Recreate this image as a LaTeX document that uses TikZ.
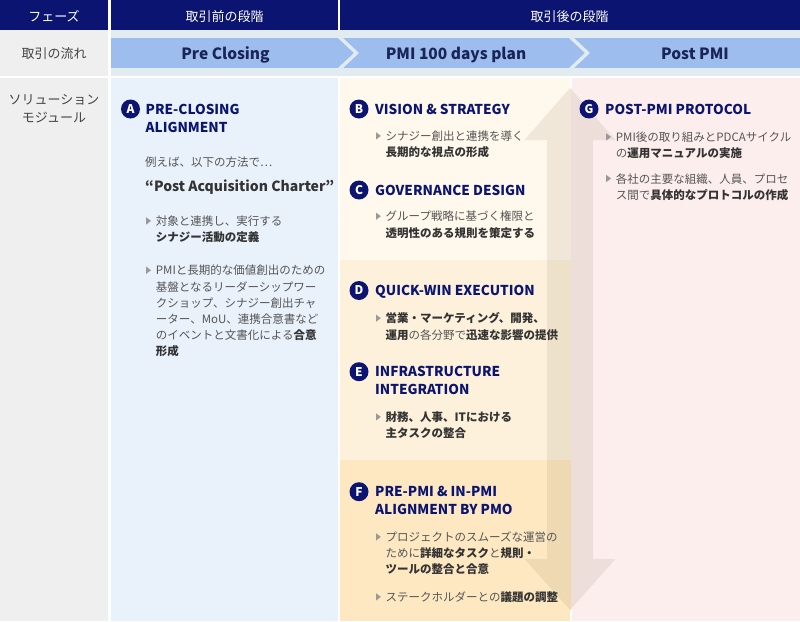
\documentclass[tikz,border=0pt]{standalone}
\usepackage{fontspec}
\setmainfont{Noto Sans CJK JP}

\definecolor{navy}{HTML}{0B1470}
\definecolor{cellgray}{HTML}{EFEFEF}
\definecolor{labelgray}{HTML}{444444}
\definecolor{flowbg}{HTML}{E2EBEF}
\definecolor{flowblue}{HTML}{9DBDEF}
\definecolor{flowtext}{HTML}{1A2456}
\definecolor{preblue}{HTML}{E9F1FB}
\definecolor{creamtop}{HTML}{FFF8EC}
\definecolor{creammid}{HTML}{FDF1DB}
\definecolor{creamlow}{HTML}{FDE8C2}
\definecolor{postpink}{HTML}{FDEEEE}
\definecolor{bodygray}{HTML}{555555}
\definecolor{bodydark}{HTML}{333333}
\definecolor{trigray}{HTML}{999999}
\definecolor{arrowtint}{HTML}{6E5532}

\newcommand{\kw}[1]{{\bfseries\color{bodydark}#1}}
\newcommand{\bodystrut}{\rule{0pt}{11pt}}
\newcommand{\headstrut}{\rule{0pt}{13pt}}
% small grey bullet in front of a text node
\newcommand{\tri}[1]{\fill[trigray] ([shift={(-9.5,3)}]#1.north west) -- ++(4.8,3.6) -- ++(-4.8,3.6) -- cycle;}

\tikzset{
    hdr/.style={text=white, anchor=base, inner sep=0pt, font=\fontsize{13}{13}\selectfont},
    rowlabel/.style={text=labelgray, inner sep=0pt, align=center, font=\fontsize{13}{18}\selectfont},
    flow/.style={text=flowtext, anchor=base, inner sep=0pt, font=\bfseries\fontsize{15.5}{15.5}\selectfont},
    badge/.style={circle, fill=navy, text=white, inner sep=0pt, minimum size=19pt, font=\bfseries\fontsize{12}{12}\selectfont},
    module/.style={text=navy, anchor=north west, inner sep=0pt, align=left, font=\bfseries\fontsize{13.6}{18}\selectfont},
    body/.style={text=bodygray, anchor=north west, inner sep=0pt, align=left, font=\fontsize{11.5}{16.2}\selectfont},
    }

\begin{document}
\begin{tikzpicture}[x=1pt,y=-1pt]
	\useasboundingbox (0,0) rectangle (800,621);
	% header row
	\fill[navy] (0,0) rectangle (108,30);
	\fill[navy] (111,0) rectangle (338,30);
	\fill[navy] (340,0) rectangle (800,30);
	% flow row
	\fill[cellgray] (0,30) rectangle (108,75.5);
	\fill[flowbg] (111,30) rectangle (800,75.5);
	\fill[flowblue] (111,38) rectangle (800,68);
	\fill[flowbg] (338,38) -- (354,53) -- (338,68) -- (343,68) -- (359,53) -- (343,38) -- cycle;
	\fill[flowbg] (569,38) -- (585,53) -- (569,68) -- (574,68) -- (590,53) -- (574,38) -- cycle;
	% module row
	\fill[cellgray] (0,78) rectangle (108,621);
	\fill[preblue] (111,78) rectangle (338,621);
	\fill[creamtop] (340,78) rectangle (571,260);
	\fill[creammid] (340,260) rectangle (571,460);
	\fill[creamlow] (340,460) rectangle (571,621);
	\fill[postpink] (571,78) rectangle (800,621);
	\fill[white] (570,78) rectangle (572,88);
	\fill[white] (570,610) rectangle (572,621);
	% two-way arrow
	\fill[arrowtint, fill opacity=0.1] (570,88) -- (615.5,140) -- (593,140) -- (593,559)
		-- (615.5,559) -- (570,610) -- (524.5,559) -- (547,559) -- (547,140) -- (524.5,140) -- cycle;

	\node[hdr] (hdrPhase) at (54,21.5) {フェーズ};
	\node[hdr] (hdrPre) at (224.5,21.5) {取引前の段階};
	\node[hdr] (hdrPost) at (569.5,21.5) {取引後の段階};
	\node[rowlabel, anchor=base] (lblFlow) at (54,58.2) {取引の流れ};
	\node[rowlabel, anchor=north] (lblModule) at (54,91.2) {\headstrut ソリューション\\モジュール};
	\node[flow] (flowPre) at (225.5,59.3) {Pre Closing};
	\node[flow] (flowPmi) at (456,59.3) {PMI 100 days plan};
	\node[flow] (flowPost) at (695,59.3) {Post PMI};

	% A
	\node[badge] (badgeA) at (130.5,109) {A};
	\node[module] (modA) at (145.5,101) {\headstrut PRE-CLOSING\\ALIGNMENT};
	\node[body, anchor=base west] (egA) at (145,166) {例えば、以下の方法で…};
	\node[anchor=base west, inner sep=0pt, text=bodydark, font=\bfseries\fontsize{14}{14}\selectfont] (charterA) at (145,191) {“Post Acquisition Charter”};
	\node[body] (txtA1) at (155.7,214.3) {\bodystrut 対象と連携し、実行する\\\kw{シナジー活動の定義}};
	\node[body] (txtA2) at (155.7,263.6) {\bodystrut PMIと長期的な価値創出のための\\基盤となるリーダーシップワー\\クショップ、シナジー創出チャ\\ーター、MoU、連携合意書など\\のイベントと文書化による\kw{合意}\\\kw{形成}};
	% B
	\node[badge] (badgeB) at (359,109) {B};
	\node[module] (modB) at (375,101) {\headstrut VISION \& STRATEGY};
	\node[body] (txtB) at (385.5,129.3) {\bodystrut シナジー創出と連携を導く\\\kw{長期的な視点の形成}};
	% C
	\node[badge] (badgeC) at (359,190) {C};
	\node[module] (modC) at (375,182) {\headstrut GOVERNANCE DESIGN};
	\node[body] (txtC) at (385.5,209.6) {\bodystrut グループ戦略に基づく権限と\\\kw{透明性のある規則を策定する}};
	% D
	\node[badge] (badgeD) at (359,290.5) {D};
	\node[module] (modD) at (375,282.5) {\headstrut QUICK-WIN EXECUTION};
	\node[body] (txtD) at (385.5,311.6) {\bodystrut\kw{営業・マーケティング、開発、}\\\kw{運用}の各分野で\kw{迅速な影響の提供}};
	% E
	\node[badge] (badgeE) at (359,371.7) {E};
	\node[module] (modE) at (375,363.7) {\headstrut INFRASTRUCTURE\\INTEGRATION};
	\node[body] (txtE) at (385.5,410.3) {\bodystrut\kw{財務、人事、ITにおける}\\\kw{主タスクの整合}};
	% F
	\node[badge] (badgeF) at (359,491.7) {F};
	\node[module] (modF) at (375,483.7) {\headstrut PRE-PMI \& IN-PMI\\ALIGNMENT BY PMO};
	\node[body] (txtF1) at (385.5,530.3) {\bodystrut プロジェクトのスムーズな運営の\\ために\kw{詳細なタスク}と\kw{規則・}\\\kw{ツールの整合と合意}};
	\node[body] (txtF2) at (385.5,590.3) {\bodystrut ステークホルダーとの\kw{議題の調整}};
	% G
	\node[badge] (badgeG) at (589,109) {G};
	\node[module] (modG) at (605,101) {\headstrut POST-PMI PROTOCOL};
	\node[body] (txtG1) at (615.7,130.3) {\bodystrut PMI後の取り組みとPDCAサイクル\\の\kw{運用マニュアルの実施}};
	\node[body] (txtG2) at (615.7,171.9) {\bodystrut 各社の主要な組織、人員、プロセ\\ス間で\kw{具体的なプロトコルの作成}};

	% bullets
	\tri{txtA1} \tri{txtA2} \tri{txtB} \tri{txtC} \tri{txtD} \tri{txtE}
	\tri{txtF1} \tri{txtF2} \tri{txtG1} \tri{txtG2}
\end{tikzpicture}
\end{document}
